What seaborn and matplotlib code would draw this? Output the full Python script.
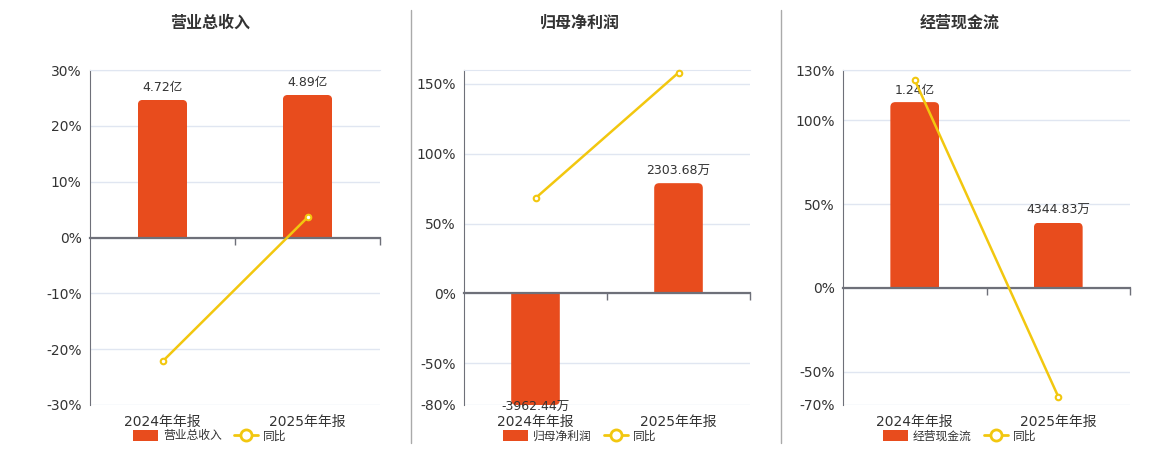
import matplotlib
matplotlib.use("Agg")
import matplotlib.pyplot as plt
import matplotlib.patches as mpatches
from matplotlib.lines import Line2D
from matplotlib.ticker import FuncFormatter
import seaborn as sns

# Données (montants en yuan, variations en %)
periods = ["2024年年报", "2025年年报"]

revenue = [4.72e8, 4.89e8]
revenue_yoy = [-22.2, 3.6]

net_profit = [-3962.44e4, 2303.68e4]
net_profit_yoy = [68.2, 158.1]

cashflow = [1.24e8, 4344.83e4]
cashflow_yoy = [124.0, -65.0]

titles = ["营业总收入", "归母净利润", "经营现金流"]

BAR_COLOR = "#e84c1d"
LINE_COLOR = "#f2c70f"
AXIS_COLOR = "#6e7079"
GRID_COLOR = "#e0e6f1"
TEXT_COLOR = "#333333"

W, H = 1160, 450


def fmt_amount(v):
    if abs(v) >= 1e8:
        return f"{v / 1e8:.2f}亿"
    return f"{v / 1e4:.2f}万"


def dessiner_panneau(fig, rect_px, values, yoy, title, pct_lim, pct_ticks, bar_top, center_x):
    left, right, top, bottom = rect_px
    rect = [left / W, 1 - bottom / H, (right - left) / W, (bottom - top) / H]

    ax_pct = fig.add_axes(rect)
    ax_bar = ax_pct.twinx()
    ax_line = ax_pct.twinx()

    # axe des pourcentages (grille + graduations à gauche)
    ax_pct.set_ylim(*pct_lim)
    ax_pct.set_yticks(pct_ticks)
    ax_pct.yaxis.set_major_formatter(FuncFormatter(lambda v, p: f"{v:.0f}%"))
    ax_pct.yaxis.grid(True, color=GRID_COLOR, lw=1)
    ax_pct.set_axisbelow(True)
    for s in ["right", "bottom"]:
        ax_pct.spines[s].set_visible(False)
    ax_pct.spines["top"].set_color(GRID_COLOR)
    ax_pct.spines["left"].set_color(AXIS_COLOR)
    ax_pct.tick_params(axis="y", length=0, pad=6, labelsize=10, labelcolor=TEXT_COLOR)

    # barres
    ratio = bar_top / pct_lim[1]
    bar_lim = (pct_lim[0] * ratio, bar_top)
    sns.barplot(x=periods, y=values, ax=ax_bar, color=BAR_COLOR, width=0.34,
                saturation=1, errorbar=None)
    ax_bar.set_ylim(*bar_lim)
    ax_bar.set_xlim(-0.5, 1.5)

    # coins arrondis : boîte arrondie prolongée côté zéro puis découpée par la barre
    xs = 2 / (right - left)
    ys = (bar_lim[1] - bar_lim[0]) / (bottom - top)
    r = 5 * xs
    for p in list(ax_bar.patches):
        x0, y0 = p.get_xy()
        w, h = p.get_width(), p.get_height()
        far = min(max(y0 + h, bar_lim[0]), bar_lim[1])
        lo, hi = min(0, far), max(0, far)
        ext_lo = lo - 8 * ys if far > 0 else lo
        ext_hi = hi + 8 * ys if far < 0 else hi
        fb = mpatches.FancyBboxPatch((x0, ext_lo), w, ext_hi - ext_lo,
                                     boxstyle=f"round,pad=0,rounding_size={r}",
                                     mutation_aspect=ys / xs, fc=BAR_COLOR, ec="none", lw=0)
        ax_bar.add_patch(fb)
        p.set_y(lo)
        p.set_height(hi - lo)
        p.set_visible(False)
        fb.set_clip_path(p)

    for i, v in enumerate(values):
        far = min(max(v, bar_lim[0]), bar_lim[1])
        if v >= 0:
            ax_bar.annotate(fmt_amount(v), (i, far), xytext=(0, 4), textcoords="offset points",
                            ha="center", va="bottom", fontsize=9, color=TEXT_COLOR)
        else:
            ax_bar.annotate(fmt_amount(v), (i, far), xytext=(0, -1.5), textcoords="offset points",
                            ha="center", va="center", fontsize=9, color=TEXT_COLOR,
                            annotation_clip=False)

    ax_bar.set_yticks([])
    ax_bar.set_ylabel("")
    ax_bar.xaxis.set_visible(True)
    for s in ["top", "left", "right"]:
        ax_bar.spines[s].set_visible(False)
    ax_bar.spines["bottom"].set_position(("data", 0))
    ax_bar.spines["bottom"].set_color(AXIS_COLOR)
    ax_bar.spines["bottom"].set_linewidth(1.6)
    ax_bar.set_xticks([0.5, 1.5], minor=True)
    ax_bar.tick_params(axis="x", which="major", length=0, labelbottom=False)
    ax_bar.tick_params(axis="x", which="minor", bottom=True, direction="out",
                       length=5, width=1, color=AXIS_COLOR)

    # courbe de variation
    sns.pointplot(x=periods, y=yoy, ax=ax_line, color=LINE_COLOR, markers="o",
                  markersize=4, linewidth=1.8, errorbar=None,
                  markerfacecolor="white", markeredgewidth=1.5, clip_on=False)
    ax_line.set_ylim(*pct_lim)
    ax_line.set_xlim(-0.5, 1.5)
    ax_line.set_yticks([])
    ax_line.set_ylabel("")
    for s in ax_line.spines.values():
        s.set_visible(False)

    # étiquettes de l'axe x (en bas)
    ax_pct.set_xlim(-0.5, 1.5)
    ax_pct.tick_params(axis="x", which="major", length=0, pad=7, labelsize=10,
                       labelcolor=TEXT_COLOR)
    ax_pct.tick_params(axis="x", which="minor", length=0)

    fig.text(center_x / W, 1 - 23 / H, title, ha="center", va="center",
             fontsize=11.5, fontweight="bold", color=TEXT_COLOR)

    handles = [mpatches.Patch(facecolor=BAR_COLOR, edgecolor="none"),
               Line2D([], [], color=LINE_COLOR, lw=2, marker="o", markersize=8,
                      markerfacecolor="white", markeredgewidth=2)]
    ax_line.legend(handles, [title, "同比"], loc="center",
                   bbox_to_anchor=(center_x / W, 1 - 436 / H), bbox_transform=fig.transFigure,
                   ncol=2, frameon=False, fontsize=8.5, handlelength=2.1, handleheight=0.95,
                   handletextpad=0.4, columnspacing=1.0, labelcolor=TEXT_COLOR)


def main():
    sns.set_style("white")
    plt.rcParams["font.family"] = ["DejaVu Sans", "Noto Sans CJK SC"]

    fig = plt.figure(figsize=(W / 100, H / 100), dpi=100)

    dessiner_panneau(fig, (90, 380, 70, 405), revenue, revenue_yoy, titles[0],
                     (-30, 30), [-30, -20, -10, 0, 10, 20, 30], 5.745e8, 210)
    dessiner_panneau(fig, (464, 750, 70, 405), net_profit, net_profit_yoy, titles[1],
                     (-80, 160), [-80, -50, 0, 50, 100, 150], 4670e4, 580)
    dessiner_panneau(fig, (843, 1130, 70, 405), cashflow, cashflow_yoy, titles[2],
                     (-70, 130), [-70, -50, 0, 50, 100, 130], 1.4545e8, 960)

    # séparateurs verticaux
    for x in [411, 781]:
        fig.add_artist(Line2D([x / W, x / W], [1 - 10 / H, 1 - 443 / H],
                              transform=fig.transFigure, color="#aaaaaa", lw=1))

    fig.savefig("out.png", dpi=100)
    plt.close(fig)


if __name__ == "__main__":
    main()
